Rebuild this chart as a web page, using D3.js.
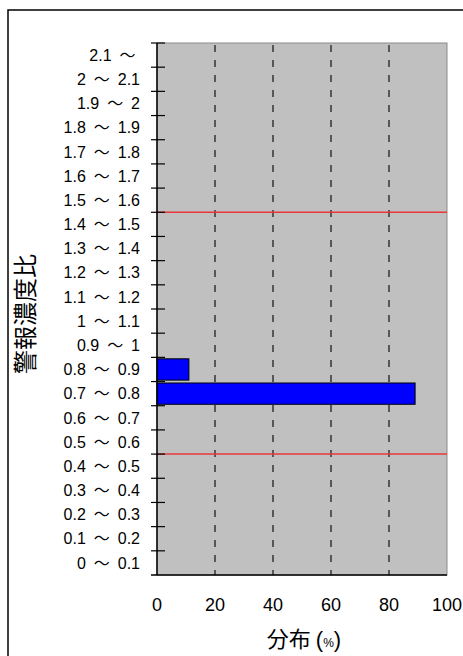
<!DOCTYPE html>
<html><head><meta charset="utf-8">
<script src="https://cdn.jsdelivr.net/npm/d3@7"></script>
<style>
body{margin:0;background:#fff;}
.lbl{font-family:"Liberation Sans","Noto Sans CJK JP",sans-serif;}
.cjk{font-family:"Noto Sans CJK JP",sans-serif;}
</style></head><body>
<svg id="c" width="463" height="656"></svg>
<script>
const categories = ["0 ～ 0.1","0.1 ～ 0.2","0.2 ～ 0.3","0.3 ～ 0.4","0.4 ～ 0.5","0.5 ～ 0.6","0.6 ～ 0.7","0.7 ～ 0.8","0.8 ～ 0.9","0.9 ～ 1","1 ～ 1.1","1.1 ～ 1.2","1.2 ～ 1.3","1.3 ～ 1.4","1.4 ～ 1.5","1.5 ～ 1.6","1.6 ～ 1.7","1.7 ～ 1.8","1.8 ～ 1.9","1.9 ～ 2","2 ～ 2.1","2.1 ～"];
const values = [0,0,0,0,0,0,0,89,11,0,0,0,0,0,0,0,0,0,0,0,0,0];
const xTicks = [0,20,40,60,80,100];
const gridValues = [20,40,60,80];
const thresholdBoundaries = [5,15]; // boundary index (band count from bottom)
const xTitleMain = "分布";
const xTitleUnit = "%";
const yTitle = "警報濃度比";

const svg = d3.select("#c");
const L=157, R=447, T=43, B=575;
const x = d3.scaleLinear().domain([0,100]).range([L,R]);
const y = d3.scaleBand().domain(categories).range([B,T]).paddingInner(0.12).paddingOuter(0.06);
const yb = d3.scaleLinear().domain([0,categories.length]).range([B,T]);

// outer border
svg.append("path").attr("d",`M8,${656+5} L8,10 L${463+5},10`).attr("fill","none").attr("stroke","#000").attr("stroke-width",1.5);

// plot background
svg.append("rect").attr("x",L).attr("y",T).attr("width",R-L).attr("height",B-T).attr("fill","#c0c0c0").attr("stroke","#8c8c8c").attr("stroke-width",1);

// grid
svg.append("g").selectAll("line").data(gridValues).join("line")
  .attr("x1",d=>x(d)).attr("x2",d=>x(d)).attr("y1",T+2).attr("y2",B)
  .attr("stroke","#111").attr("stroke-width",1.2).attr("stroke-dasharray","7,8");

// red threshold lines
svg.append("g").selectAll("line").data(thresholdBoundaries).join("line")
  .attr("x1",L).attr("x2",R).attr("y1",d=>yb(d)).attr("y2",d=>yb(d))
  .attr("stroke","#e8393a").attr("stroke-width",1.5);

// bars
svg.append("g").selectAll("rect").data(categories.map((c,i)=>({c,v:values[i]})).filter(d=>d.v>0)).join("rect")
  .attr("x",x(0)).attr("y",d=>y(d.c)).attr("width",d=>x(d.v)-x(0)).attr("height",y.bandwidth())
  .attr("fill","#0000ff").attr("stroke","#000").attr("stroke-width",1);

// axes lines
svg.append("line").attr("x1",L).attr("x2",L).attr("y1",T).attr("y2",B).attr("stroke","#000").attr("stroke-width",1.5);
svg.append("line").attr("x1",L-6).attr("x2",R).attr("y1",B).attr("y2",B).attr("stroke","#000").attr("stroke-width",1.5);

// y ticks at band boundaries
svg.append("g").selectAll("line").data(d3.range(1,categories.length+1)).join("line")
  .attr("x1",L-6).attr("x2",L+8).attr("y1",d=>yb(d)).attr("y2",d=>yb(d))
  .attr("stroke","#000").attr("stroke-width",1.2);

// y labels
const yl = svg.append("g").selectAll("text").data(categories).join("text")
  .attr("class","lbl").attr("fill","#000").attr("font-size",16)
  .attr("x",140).attr("y",d=>y(d)+y.bandwidth()/2).attr("dy","0.36em")
  .attr("text-anchor","end");
yl.each(function(d){
  const parts = d.split(" ～");
  const t = d3.select(this);
  t.append("tspan").text(parts[0] + "\u00a0");
  t.append("tspan").attr("dx",3.5).text("～");
  if (parts[1]) t.append("tspan").attr("dx",3.5).text("\u00a0" + parts[1].trim());
  else t.append("tspan").text("\u00a0");
});

// x labels
svg.append("g").selectAll("text").data(xTicks).join("text")
  .attr("class","lbl").attr("fill","#000").attr("font-size",18)
  .attr("x",d=>x(d)).attr("y",605).attr("dy","0.36em")
  .attr("text-anchor","middle").text(d=>d);

// titles
const xt = svg.append("text").attr("class","cjk").attr("fill","#000").attr("x",(L+R)/2+2).attr("y",639).attr("dy","0.36em").attr("text-anchor","middle")
  .attr("font-size",22);
xt.append("tspan").text(xTitleMain);
xt.append("tspan").attr("class","lbl").attr("dx",5).text("(");
xt.append("tspan").attr("class","lbl").attr("font-size",12).text(xTitleUnit);
xt.append("tspan").attr("class","lbl").text(")");

svg.append("text").attr("class","cjk").attr("fill","#000").attr("transform",`translate(25,314) rotate(-90)`).attr("dy","0.36em").attr("text-anchor","middle")
  .attr("font-size",24)
  .text(yTitle);
</script></body></html>
